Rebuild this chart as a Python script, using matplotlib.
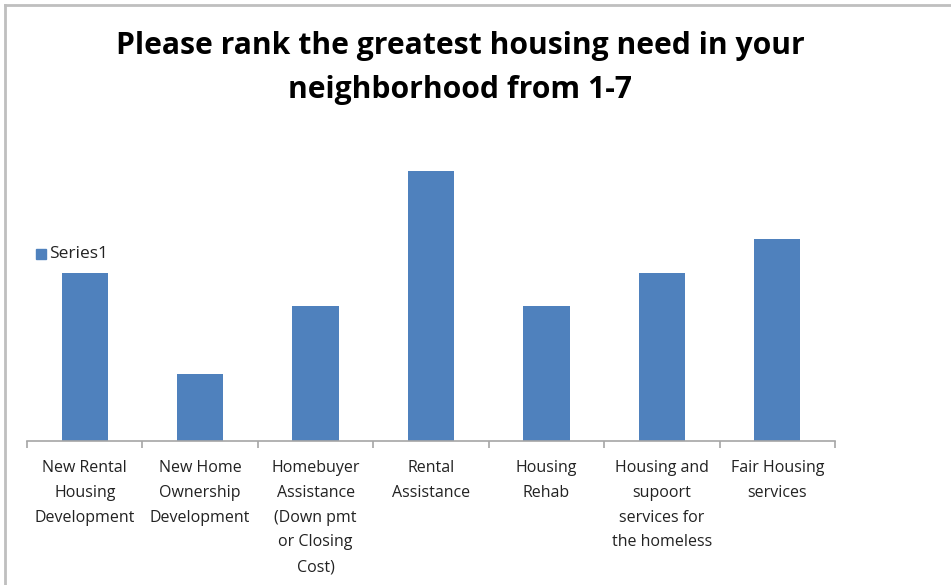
import matplotlib.pyplot as plt
from matplotlib.lines import Line2D

categories = [
    "New Rental\nHousing\nDevelopment",
    "New Home\nOwnership\nDevelopment",
    "Homebuyer\nAssistance\n(Down pmt\nor Closing\nCost)",
    "Rental\nAssistance",
    "Housing\nRehab",
    "Housing and\nsupoort\nservices for\nthe homeless",
    "Fair Housing\nservices",
]
values = [5, 2, 4, 8, 4, 5, 6]
series_name = "Series1"

plt.rcParams['font.family'] = ['Open Sans', 'DejaVu Sans']

fig = plt.figure(figsize=(9.51, 5.85), dpi=100)
ax = fig.add_axes([27 / 951, 1 - 441 / 585, 808 / 951, 337 / 585])

x = list(range(len(values)))
ax.bar(x, values, width=0.4, color='#4F81BD')
ax.set_xlim(-0.5, len(values) - 0.5)
ax.set_ylim(0, 10)

for side in ['top', 'right', 'left']:
    ax.spines[side].set_visible(False)
ax.spines['bottom'].set_color('#A6A6A6')
ax.spines['bottom'].set_linewidth(1.2)
ax.set_yticks([])

ax.set_xticks(x)
ax.set_xticklabels(categories, fontsize=11.5, color='#222222', linespacing=1.72)
ax.tick_params(axis='x', which='major', length=0, pad=14)
ax.set_xticks([i - 0.5 for i in range(len(values) + 1)], minor=True)
ax.tick_params(axis='x', which='minor', length=5, color='#A6A6A6', width=1.2)

# legend entry on the left
fig.patches.append(plt.Rectangle((36 / 951, 1 - 259 / 585), 10 / 951, 10 / 585,
                                 transform=fig.transFigure, color='#4F81BD'))
fig.text(49 / 951, 1 - 254 / 585, series_name, fontsize=12.5, color='#222222',
         va='center', ha='left')

fig.text(460 / 951, 1 - 68 / 585,
         "Please rank the greatest housing need in your\nneighborhood from 1-7",
         fontsize=21.7, fontweight='bold', ha='center', va='center',
         linespacing=1.62, color='black')

# chart frame
fig.lines.append(Line2D([5 / 951, 5 / 951], [0, 1 - 5 / 585], transform=fig.transFigure,
                        color='#BFBFBF', linewidth=2))
fig.lines.append(Line2D([5 / 951, 1], [1 - 5 / 585, 1 - 5 / 585], transform=fig.transFigure,
                        color='#BFBFBF', linewidth=2))

fig.savefig('out.png', dpi=100)
